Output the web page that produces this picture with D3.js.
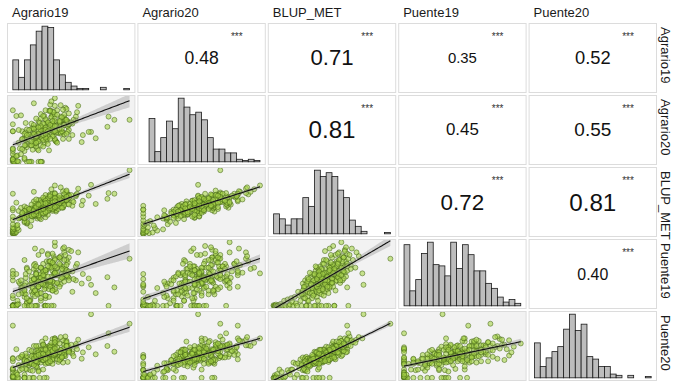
<!DOCTYPE html>
<html><head><meta charset="utf-8">
<script src="https://cdn.jsdelivr.net/npm/d3@7"></script>
<style>
body{margin:0;background:#fff}
text{font-family:"Liberation Sans",Arial,Helvetica,sans-serif}
</style>
</head><body>
<svg id="chart" width="678" height="388"></svg>
<script>
// ---- variables (strip labels) ----
const variables = ["Agrario19","Agrario20","BLUP_MET","Puente19","Puente20"];

// ---- genotype values (relative units, same genotype order in every array) ----
const agrario19 = [
0,1,0,2,0,1,3,0,0,5, 0,1,4,0,15,3,4,0,12,12, 10,12,10,16,0,24,10,21,23,6,
28,7,0,17,22,8,20,17,19,11, 18,14,10,30,8,27,25,14,24,28, 11,18,19,17,37,11,20,19,34,27,
5,31,12,29,0,37,11,26,25,34, 15,22,21,20,39,14,16,36,17,33, 21,43,7,35,19,41,23,19,43,22,
33,10,34,24,51,19,25,29,37,27, 29,31,36,24,28,41,21,47,34,19, 43,27,29,41,32,35,24,44,26,40,
44,25,32,36,41,33,33,51,38,22, 44,24,47,31,45,27,27,47,28,44, 48,34,36,41,45,36,37,35,54,35,
47,31,48,28,48,54,32,47,34,55, 36,45,46,43,46,56,41,0,3,67, 82,87,81,71,65,60,59,36,33,18,100,
8,38,24,18,30,26,14,40,12,44, 28,46,22,16,34,30,5,26,52,10, 38,20,34,0,48,16,28,44,22,36,
12,30,36,42,26,20,14,48,16,32, 22,30,38,42,8,50,26,24,34,18, 28,36,20,24,32,42,30,18,46,10,
34,20,40,28,22,40,26,36,32,28];
const agrario20 = [
0,0,5,0,2,8,0,3,12,0, 17,0,10,4,0,9,1,21,0,28, 4,23,6,0,20,35,17,20,44,21,
44,12,48,28,0,48,29,19,33,26, 26,43,37,38,35,29,48,0,26,39, 34,35,33,52,32,61,24,47,49,46,
50,18,51,33,59,32,46,50,0,52, 26,64,43,41,45,43,60,34,42,44, 56,36,73,41,40,44,61,29,58,35,
71,35,57,0,60,54,41,59,46,72, 36,61,36,75,44,71,33,56,74,43, 46,59,65,59,50,47,68,43,51,59,
66,37,81,53,46,70,52,42,81,49, 70,54,56,53,85,53,50,63,67,74, 50,79,50,65,66,74,57,78,71,62,
47,80,59,81,59,65,90,63,53,78, 88,66,83,82,62,88,89,81,72,47, 71,66,55,37,47,42,31,100,95,92,66,
20,30,50,58,28,72,35,62,38,58, 46,44,18,52,56,62,30,34,66,44, 50,38,40,48,76,26,54,58,32,68,
42,46,64,48,24,68,50,36,32,80, 44,40,74,52,36,62,60,0,60,44, 50,56,30,56,36,70,48,52,66,26,
64,40,52,38,54,64,42,48,58,44];
const blupMet = [
0,0,1,1,2,2,3,4,5,6, 7,8,9,10,12,13,14,15,16,17, 18,19,20,21,22,23,24,24,25,25,
26,26,27,27,27,28,28,28,29,29, 29,29,30,30,31,31,32,32,33,33, 33,34,34,35,35,35,35,36,36,36,
36,37,37,37,37,37,38,38,38,38, 38,39,39,39,39,39,40,40,40,40, 41,41,41,41,42,42,42,42,42,43,
43,43,43,44,44,44,44,45,45,45, 46,46,46,46,47,47,47,47,48,48, 48,48,49,49,49,49,50,50,50,50,
51,51,51,51,52,52,52,52,53,53, 53,53,54,54,54,54,55,55,56,56, 56,57,57,57,58,58,58,59,59,59,
59,60,60,61,61,61,62,62,63,63, 64,65,66,67,68,71,73,63,49,77, 64,63,55,47,60,52,45,76,70,66,100,
26,44,33,51,38,57,30,48,41,62, 35,53,29,46,39,55,24,43,50,36, 58,31,47,40,60,34,52,45,37,63,
27,49,42,56,32,54,39,46,28,59, 44,36,50,41,33,61,47,38,53,30, 43,56,35,48,40,52,45,37,58,25,
49,42,55,34,46,60,39,51,44,48];
const puente19 = [
0,1,0,0,0,2,0,1,0,3, 0,0,8,0,10,0,2,12,6,0, 14,4,0,22,16,8,20,0,20,35,
12,28,40,18,30,24,0,34,15,44, 22,8,26,38,20,0,45,32,12,28, 50,36,24,30,48,18,40,0,55,26,
38,14,60,32,46,22,36,52,42,28, 8,44,20,58,34,0,36,52,28,62, 18,44,40,0,66,34,48,24,56,30,
46,72,38,50,22,42,86,40,58,32, 70,26,48,44,0,62,36,52,28,90, 46,38,56,64,34,50,44,62,36,76,
50,58,30,94,42,66,0,54,48,80, 38,60,46,70,52,40,48,68,56,84, 44,62,36,74,58,100,50,66,40,78,
54,60,76,52,88,62,70,46,82,66, 74,80,64,90,72,84,78,55,50,33, 0,29,45,20,43,50,35,51,60,58,74,
30,52,20,64,46,40,8,30,58,92, 0,56,38,46,24,82,18,66,42,32, 60,52,38,50,54,40,0,72,30,62,
12,80,26,50,34,62,54,40,0,70, 34,62,36,44,28,86,54,34,24,42, 16,72,50,60,38,58,0,42,48,24,
68,50,66,16,30,76,48,52,40,56];
const puente20 = [
0,0,4,0,2,0,6,0,13,0, 9,1,0,2,12,8,5,13,13,24, 0,22,5,23,15,29,0,23,32,12,
24,19,31,11,12,33,20,0,30,14, 23,30,27,25,20,31,30,20,24,22, 33,0,27,22,41,22,28,27,27,40,
31,23,34,0,26,34,38,13,36,30, 22,42,16,38,25,44,24,35,37,33, 24,36,33,44,26,29,0,31,24,45,
36,26,29,33,42,41,28,39,37,49, 37,30,39,43,28,44,44,25,37,35, 40,0,31,43,44,42,32,43,53,33,
34,57,37,49,30,51,48,38,29,50, 48,44,42,40,57,39,35,51,49,52, 44,41,62,44,34,54,58,36,50,48,
42,50,43,62,45,53,51,51,61,45, 51,65,58,59,56,60,64,82,45,100, 70,41,50,37,48,40,30,62,55,50,85,
14,40,30,34,36,52,24,28,26,40, 32,50,10,42,22,46,20,44,34,28, 58,18,48,30,42,34,46,36,40,60,
26,30,38,38,28,50,0,40,22,48, 30,24,48,34,36,52,28,32,44,20, 36,56,26,38,44,32,40,30,50,0,
42,34,40,30,36,54,38,46,26,44];

// ---- histogram counts (20 bins each) ----
const histAgrario19 = [24,10,24,36,47,51,50,24,12,6,3,1,1,0,0,2,0,0,0,1];
const histAgrario20 = [0,34,8,19,32,26,50,43,37,39,33,19,10,10,7,7,2,1,2,1];
const histBlupMet   = [16,12,7,12,12,29,22,51,46,49,46,35,29,11,6,2,0,0,0,1];
const histPuente19  = [49,12,21,42,51,33,32,24,51,30,49,41,28,28,18,14,7,3,5,2];
const histPuente20  = [28,9,16,21,25,39,51,38,43,17,15,9,9,3,2,0,2,0,0,1];

// ---- correlations (upper triangle, row-major) ----
const corrRows   = [0,0,0,0,1,1,1,2,2,3];
const corrCols   = [1,2,3,4,2,3,4,3,4,4];
const corrValues = [0.48,0.71,0.35,0.52,0.81,0.45,0.55,0.72,0.81,0.40];
const corrStars  = ["***","***","***","***","***","***","***","***","***","***"];

const series = [agrario19, agrario20, blupMet, puente19, puente20];
const hists = [histAgrario19, histAgrario20, histBlupMet, histPuente19, histPuente20];

const svg = d3.select("#chart");
const n = variables.length;
const colBand = d3.scaleBand().domain(d3.range(n)).range([7,657]).paddingInner(0.0154);
const rowBand = d3.scaleBand().domain(d3.range(n)).range([23,381]).paddingInner(0.028);
const bw = colBand.bandwidth(), bh = rowBand.bandwidth();

function expandDomain(ext){ const r = ext[1]-ext[0]; return [ext[0]-0.05*r, ext[1]+0.05*r]; }
const xScales = series.map((s,k)=> d3.scaleLinear().domain(expandDomain(d3.extent(s))).range([colBand(k), colBand(k)+bw]));
const yScales = series.map((s,k)=> d3.scaleLinear().domain(expandDomain(d3.extent(s))));

const defs = svg.append("defs");

for (let i=0;i<n;i++){
  for (let j=0;j<n;j++){
    const x0 = colBand(j), y0 = rowBand(i);
    const g = svg.append("g");
    const lower = i>j;
    g.append("rect").attr("x",x0+0.5).attr("y",y0+0.5).attr("width",bw-1).attr("height",bh-1)
      .attr("fill", lower ? "#f2f2f2" : "#ffffff").attr("stroke","#dcdcdc").attr("stroke-width",1);
    if (lower){
      const cid = "clip"+i+"_"+j;
      defs.append("clipPath").attr("id",cid).append("rect").attr("x",x0+1).attr("y",y0+1).attr("width",bw-2).attr("height",bh-2);
      const pg = g.append("g").attr("clip-path","url(#"+cid+")");
      const xs = series[j], ys = series[i];
      const xS = xScales[j];
      const yS = yScales[i].copy().range([y0+bh, y0]);
      const pts = xs.map((v,k)=>[v, ys[k]]);
      pg.append("g").selectAll("circle").data(pts).join("circle")
        .attr("cx",d=>xS(d[0])).attr("cy",d=>yS(d[1])).attr("r",2.5)
        .attr("fill","#a8d64a").attr("fill-opacity",0.6)
        .attr("stroke","#3f5f14").attr("stroke-opacity",0.75).attr("stroke-width",0.7);
      // linear fit with 95% band
      const m = pts.length;
      const mx = d3.mean(pts,d=>d[0]), my = d3.mean(pts,d=>d[1]);
      const sxx = d3.sum(pts,d=>(d[0]-mx)**2), sxy = d3.sum(pts,d=>(d[0]-mx)*(d[1]-my));
      const b = sxy/sxx, a = my - b*mx;
      const sse = d3.sum(pts,d=>(d[1]-a-b*d[0])**2);
      const s = Math.sqrt(sse/(m-2));
      const ext = d3.extent(xs);
      const grid = d3.range(81).map(k=> ext[0] + k*(ext[1]-ext[0])/80);
      const band = grid.map(x=>{ const yh=a+b*x; const se=s*Math.sqrt(1/m + (x-mx)**2/sxx); return {x, lo:yh-1.973*se, hi:yh+1.973*se, y:yh}; });
      pg.append("path").datum(band)
        .attr("d", d3.area().x(d=>xS(d.x)).y0(d=>yS(d.lo)).y1(d=>yS(d.hi)))
        .attr("fill","#999999").attr("fill-opacity",0.4);
      pg.append("path").datum(band)
        .attr("d", d3.line().x(d=>xS(d.x)).y(d=>yS(d.y)))
        .attr("fill","none").attr("stroke","#111").attr("stroke-width",1.1);
    } else if (i===j){
      const counts = hists[i];
      const xh = d3.scaleLinear().domain([-1, counts.length+1]).range([x0, x0+bw]);
      const mxc = d3.max(counts);
      const yh = d3.scaleLinear().domain([-0.05*mxc, mxc*1.05]).range([y0+bh, y0]);
      g.append("g").selectAll("rect").data(counts).join("rect")
        .attr("x",(d,k)=>xh(k)).attr("width",(d,k)=>xh(k+1)-xh(k))
        .attr("y",d=>yh(d)).attr("height",d=>yh(0)-yh(d))
        .attr("fill","#bdbdbd").attr("stroke","#1a1a1a").attr("stroke-width",0.8);
    }
  }
}

// correlation texts
const fontSize = d3.scaleLinear().domain([0.35,0.81]).range([14.9,24.2]);
corrValues.forEach((r,k)=>{
  const i = corrRows[k], j = corrCols[k];
  const x0 = colBand(j), y0 = rowBand(i);
  svg.append("text").attr("x",x0+bw/2).attr("y",y0+bh/2).attr("text-anchor","middle")
    .attr("dominant-baseline","central").attr("font-size",fontSize(r)).attr("fill","#111")
    .text(d3.format(".2f")(r));
  svg.append("text").attr("x",x0+bw-29).attr("y",y0+17).attr("text-anchor","middle")
    .attr("font-size",10).attr("fill","#333").text(corrStars[k]);
});

// strips
variables.forEach((v,k)=>{
  svg.append("text").attr("x",colBand(k)+5).attr("y",17).attr("font-size",13).attr("fill","#1a1a1a").text(v);
  svg.append("text").attr("transform",`translate(661,${rowBand(k)+4}) rotate(90)`)
    .attr("font-size",13).attr("fill","#1a1a1a").text(v);
});
</script>
</body></html>
